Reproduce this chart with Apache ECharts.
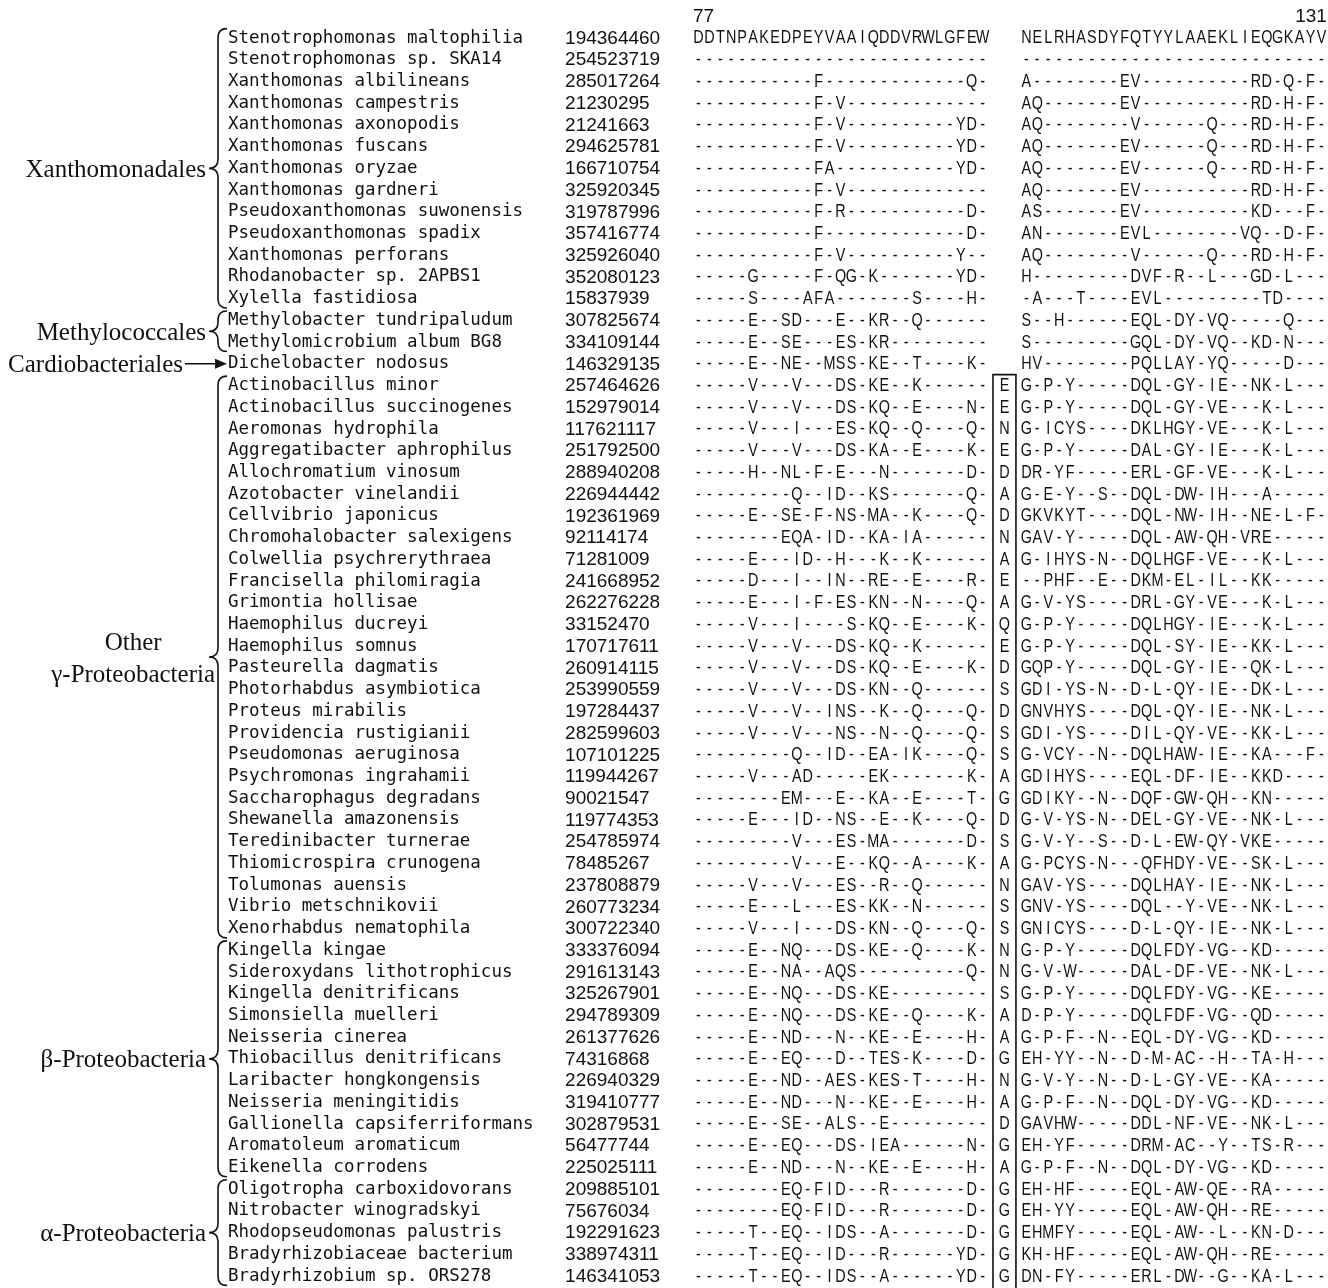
<!DOCTYPE html>
<html><head><meta charset="utf-8">
<script src="https://cdn.jsdelivr.net/npm/echarts@6/dist/echarts.min.js"></script>
<style>html,body{margin:0;padding:0;background:#fff}#c{width:1328px;height:1288px}</style>
</head><body><div id="c"></div>
<script>
const names = [
'Stenotrophomonas maltophilia','Stenotrophomonas sp. SKA14','Xanthomonas albilineans','Xanthomonas campestris',
'Xanthomonas axonopodis','Xanthomonas fuscans','Xanthomonas oryzae','Xanthomonas gardneri',
'Pseudoxanthomonas suwonensis','Pseudoxanthomonas spadix','Xanthomonas perforans','Rhodanobacter sp. 2APBS1',
'Xylella fastidiosa','Methylobacter tundripaludum','Methylomicrobium album BG8','Dichelobacter nodosus',
'Actinobacillus minor','Actinobacillus succinogenes','Aeromonas hydrophila','Aggregatibacter aphrophilus',
'Allochromatium vinosum','Azotobacter vinelandii','Cellvibrio japonicus','Chromohalobacter salexigens',
'Colwellia psychrerythraea','Francisella philomiragia','Grimontia hollisae','Haemophilus ducreyi',
'Haemophilus somnus','Pasteurella dagmatis','Photorhabdus asymbiotica','Proteus mirabilis',
'Providencia rustigianii','Pseudomonas aeruginosa','Psychromonas ingrahamii','Saccharophagus degradans',
'Shewanella amazonensis','Teredinibacter turnerae','Thiomicrospira crunogena','Tolumonas auensis',
'Vibrio metschnikovii','Xenorhabdus nematophila','Kingella kingae','Sideroxydans lithotrophicus',
'Kingella denitrificans','Simonsiella muelleri','Neisseria cinerea','Thiobacillus denitrificans',
'Laribacter hongkongensis','Neisseria meningitidis','Gallionella capsiferriformans','Aromatoleum aromaticum',
'Eikenella corrodens','Oligotropha carboxidovorans','Nitrobacter winogradskyi','Rhodopseudomonas palustris',
'Bradyrhizobiaceae bacterium','Bradyrhizobium sp. ORS278'];

const ids = [
'194364460','254523719','285017264','21230295','21241663','294625781','166710754','325920345',
'319787996','357416774','325926040','352080123','15837939','307825674','334109144','146329135',
'257464626','152979014','117621117','251792500','288940208','226944442','192361969','92114174',
'71281009','241668952','262276228','33152470','170717611','260914115','253990559','197284437',
'282599603','107101225','119944267','90021547','119774353','254785974','78485267','237808879',
'260773234','300722340','333376094','291613143','325267901','294789309','261377626','74316868',
'226940329','319410777','302879531','56477744','225025111','209885101','75676034','192291623',
'338974311','146341053'];

const block1 = [
'DDTNPAKEDPEYVAAIQDDVRWLGFEW',
'---------------------------',
'-----------F-------------Q-',
'-----------F-V-------------',
'-----------F-V----------YD-',
'-----------F-V----------YD-',
'-----------FA-----------YD-',
'-----------F-V-------------',
'-----------F-R-----------D-',
'-----------F-------------D-',
'-----------F-V----------Y--',
'-----G-----F-QG-K-------YD-',
'-----S----AFA-------S----H-',
'-----E--SD---E--KR--Q------',
'-----E--SE---ES-KR---------',
'-----E--NE--MSS-KE--T----K-',
'-----V---V---DS-KE--K------',
'-----V---V---DS-KQ--E----N-',
'-----V---I---ES-KQ--Q----Q-',
'-----V---V---DS-KA--E----K-',
'-----H--NL-F-E---N-------D-',
'---------Q--ID--KS-------Q-',
'-----E--SE-F-NS-MA--K----Q-',
'--------EQA-ID--KA-IA------',
'-----E---ID--H---K--K------',
'-----D---I--IN--RE--E----R-',
'-----E---I-F-ES-KN--N----Q-',
'-----V---I----S-KQ--E----K-',
'-----V---V---DS-KQ--K------',
'-----V---V---DS-KQ--E----K-',
'-----V---V---DS-KN--Q------',
'-----V---V--INS--K--Q----Q-',
'-----V---V---NS--N--Q----Q-',
'---------Q--ID--EA-IK----Q-',
'-----V---AD-----EK-------K-',
'--------EM---E--KA--E----T-',
'-----E---ID--NS--E--K----Q-',
'---------V---ES-MA-------D-',
'---------V---E--KQ--A----K-',
'-----V---V---ES--R--Q------',
'-----E---L---ES-KK--N------',
'-----V---I---DS-KN--Q----Q-',
'-----E--NQ---DS-KE--Q----K-',
'-----E--NA--AQS----------Q-',
'-----E--NQ---DS-KE---------',
'-----E--NQ---DS-KE--Q----K-',
'-----E--ND---N--KE--E----H-',
'-----E--EQ---D--TES-K----D-',
'-----E--ND--AES-KES-T----H-',
'-----E--ND---N--KE--E----H-',
'-----E--SE--ALS--E---------',
'-----E--EQ---DS-IEA------N-',
'-----E--ND---N--KE--E----H-',
'--------EQ-FID---R-------D-',
'--------EQ-FID---R-------D-',
'-----T--EQ--IDS--A-------D-',
'-----T--EQ--ID---R------YD-',
'-----T--EQ--IDS--A------YD-'];

const insertion = [
'','','','','','','','','','','','','','','','',
'E','E','N','E','D','A','D','N','A','E','A','Q','E','D','S','D','S','S','A','G','D','S','A','N','S','S',
'N','N','S','A','A','G','N','A','D','G','A',
'G','G','G','G','G'];

const block2 = [
'NELRHASDYFQTYYLAAEKLIEQGKAYV',
'----------------------------',
'A--------EV----------RD-Q-F-',
'AQ-------EV----------RD-H-F-',
'AQ--------V------Q---RD-H-F-',
'AQ-------EV------Q---RD-H-F-',
'AQ-------EV------Q---RD-H-F-',
'AQ-------EV----------RD-H-F-',
'AS-------EV----------KD---F-',
'AN-------EVL--------VQ--D-F-',
'AQ--------V------Q---RD-H-F-',
'H---------DVF-R--L---GD-L---',
'-A---T----EVL---------TD----',
'S--H------EQL-DY-VQ-----Q---',
'S---------GQL-DY-VQ--KD-N---',
'HV--------PQLLAY-YQ-----D---',
'G-P-Y-----DQL-GY-IE--NK-L---',
'G-P-Y-----DQL-GY-VE---K-L---',
'G-ICYS----DKLHGY-VE---K-L---',
'G-P-Y-----DAL-GY-IE---K-L---',
'DR-YF-----ERL-GF-VE---K-L---',
'G-E-Y--S--DQL-DW-IH---A-----',
'GKVKYT----DQL-NW-IH--NE-L-F-',
'GAV-Y-----DQL-AW-QH-VRE-----',
'G-IHYS-N--DQLHGF-VE---K-L---',
'--PHF--E--DKM-EL-IL--KK-----',
'G-V-YS----DRL-GY-VE---K-L---',
'G-P-Y-----DQLHGY-IE---K-L---',
'G-P-Y-----DQL-SY-IE--KK-L---',
'GQP-Y-----DQL-GY-IE--QK-L---',
'GDI-YS-N--D-L-QY-IE--DK-L---',
'GNVHYS----DQL-QY-IE--NK-L---',
'GDI-YS----DIL-QY-VE--KK-L---',
'G-VCY--N--DQLHAW-IE--KA---F-',
'GDIHYS----EQL-DF-IE--KKD----',
'GDIKY--N--DQF-GW-QH--KN-----',
'G-V-YS-N--DEL-GY-VE--NK-L---',
'G-V-Y--S--D-L-EW-QY-VKE-----',
'G-PCYS-N---QFHDY-VE--SK-L---',
'GAV-YS----DQLHAY-IE--NK-L---',
'GNV-YS----DQL--Y-VE--NK-L---',
'GNICYS----D-L-QY-IE--NK-L---',
'G-P-Y-----DQLFDY-VG--KD-----',
'G-V-W-----DAL-DF-VE--NK-L---',
'G-P-Y-----DQLFDY-VG--KE-----',
'D-P-Y-----DQLFDF-VG--QD-----',
'G-P-F--N--EQL-DY-VG--KD-----',
'EH-YY--N--D-M-AC--H--TA-H---',
'G-V-Y--N--D-L-GY-VE--KA-----',
'G-P-F--N--DQL-DY-VG--KD-----',
'GAVHW-----DDL-NF-VE--NK-L---',
'EH-YF-----DRM-AC--Y--TS-R---',
'G-P-F--N--DQL-DY-VG--KD-----',
'EH-HF-----EQL-AW-QE--RA-----',
'EH-YY-----EQL-AW-QH--RE-----',
'EHMFY-----EQL-AW--L--KN-D---',
'KH-HF-----EQL-AW-QH--RE-----',
'DN-FY-----ERL-DW--G--KA-L---'];

const positionLabels = ['77', '131'];
const groupLabels = ['Xanthomonadales','Methylococcales','Cardiobacteriales','Other\nγ-Proteobacteria','β-Proteobacteria','α-Proteobacteria'];
const groupFirst = [1, 14, 16, 17, 43, 54];
const groupLast  = [13, 15, 16, 42, 53, 58];
const groupMark  = ['brace','brace','arrow','brace','brace','brace'];
const boxFirstRow = 17;

// ---- layout (display columns, one unit = one character cell) ----
const NAME_COL = -42.54, ID_COL = -11.7, BLOCK1_COL = 0, INS_COL = 28, BLOCK2_COL = 30, END_COL = 58;
const SEQ_FONT = '18px "Liberation Sans", Arial, sans-serif';
const SEQ_SCALE = 0.8;
const ID_FONT = '19px "Liberation Sans", Arial, sans-serif';
const NAME_FONT = '17.5px "DejaVu Sans Mono", monospace';
const LABEL_FONT = '25px "Liberation Serif", "DejaVu Serif", serif';
const INK = '#111';

const seqData = [], seqChars = [];
function addRow(str, startCol, row) {
  for (let k = 0; k < str.length; k++) {
    const ch = str[k];
    if (ch === ' ') continue;
    seqData.push([startCol + k + 0.5, row]);
    seqChars.push(ch);
  }
}
names.forEach((_, r) => {
  addRow(block1[r], BLOCK1_COL, r + 1);
  addRow(insertion[r], INS_COL, r + 1);
  addRow(block2[r], BLOCK2_COL, r + 1);
});

const mctx = document.createElement('canvas').getContext('2d');
function textWidth(s, font) { mctx.font = font; return mctx.measureText(s).width; }

const chart = echarts.init(document.getElementById('c'));
chart.setOption({
  animation: false,
  backgroundColor: '#fff',
  grid: { left: 0, right: 0, top: 0, bottom: 0 },
  xAxis: { type: 'value', min: -63.40, max: 58.10, show: false },
  yAxis: { type: 'value', inverse: true, min: -0.75, max: 58.55, show: false },
  series: [
    { type: 'custom', silent: true, progressive: 0,
      data: seqData,
      renderItem: (params, api) => {
        const p = api.coord([api.value(0), api.value(1)]);
        return { type: 'text', x: p[0], y: p[1] + 0.5, scaleX: SEQ_SCALE,
          style: { text: seqChars[params.dataIndex], x: 0, y: 0,
          align: 'center', verticalAlign: 'middle', font: SEQ_FONT, fill: INK } };
      } },
    { type: 'custom', silent: true,
      data: names.map((_, r) => [NAME_COL, r + 1]),
      renderItem: (params, api) => {
        const p = api.coord([api.value(0), api.value(1)]);
        return { type: 'text', style: { text: names[params.dataIndex], x: p[0], y: p[1],
          align: 'left', verticalAlign: 'middle', font: NAME_FONT, fill: INK } };
      } },
    { type: 'custom', silent: true,
      data: ids.map((_, r) => [ID_COL, r + 1]),
      renderItem: (params, api) => {
        const p = api.coord([api.value(0), api.value(1)]);
        return { type: 'text', style: { text: ids[params.dataIndex], x: p[0], y: p[1] + 0.5,
          align: 'left', verticalAlign: 'middle', font: ID_FONT, fill: INK } };
      } },
    { type: 'custom', silent: true,
      data: [[BLOCK1_COL, 0], [END_COL, 0]],
      renderItem: (params, api) => {
        const p = api.coord([api.value(0), api.value(1)]);
        return { type: 'text', style: { text: positionLabels[params.dataIndex], x: p[0], y: p[1],
          align: params.dataIndex === 0 ? 'left' : 'right', verticalAlign: 'middle', font: ID_FONT, fill: INK } };
      } },
    { type: 'custom', silent: true,
      data: [[INS_COL, boxFirstRow, names.length]],
      renderItem: (params, api) => {
        const c = api.value(0), r0 = api.value(1);
        const a = api.coord([c - 0.55, r0 - 0.5]);
        const b = api.coord([c + 1.55, r0 + names.length]);
        return { type: 'rect', shape: { x: a[0], y: a[1], width: b[0] - a[0], height: b[1] - a[1] },
          style: { fill: 'none', stroke: INK, lineWidth: 1.6 } };
      } },
    { type: 'custom', silent: true,
      data: groupFirst.map((f, i) => [f, groupLast[i]]),
      renderItem: (params, api) => {
        const i = params.dataIndex;
        const first = api.value(0), last = api.value(1);
        const xr = api.coord([NAME_COL, first])[0];
        const top = api.coord([NAME_COL, first - 0.5])[1] + 1.5;
        const bot = api.coord([NAME_COL, last + 0.5])[1] - 1.5;
        const mid = (top + bot) / 2;
        const children = [];
        const lines = groupLabels[i].split('\n');
        let labelRight;
        if (groupMark[i] === 'brace') {
          const xe = xr - 1, xm = xr - 10, xl = xr - 19;
          const r = Math.min(9, (bot - top) / 4);
          children.push({ type: 'path', shape: { pathData:
            `M${xe} ${top} Q${xm} ${top} ${xm} ${top + r} L${xm} ${mid - r} Q${xm} ${mid} ${xl} ${mid} ` +
            `Q${xm} ${mid} ${xm} ${mid + r} L${xm} ${bot - r} Q${xm} ${bot} ${xe} ${bot}` },
            style: { fill: 'none', stroke: INK, lineWidth: 1.6 } });
          labelRight = lines.length > 1 ? xm - 3 : xl - 3;
        } else {
          children.push({ type: 'line', shape: { x1: xr - 43, y1: mid, x2: xr - 10, y2: mid },
            style: { stroke: INK, lineWidth: 1.6 } });
          children.push({ type: 'polygon', shape: { points: [[xr - 1, mid], [xr - 13, mid - 5], [xr - 13, mid + 5]] },
            style: { fill: INK } });
          labelRight = xr - 45;
        }
        const widest = Math.max(...lines.map(s => textWidth(s, LABEL_FONT)));
        const cx = labelRight - widest / 2;
        lines.forEach((s, k) => {
          children.push({ type: 'text', style: { text: s, x: cx, y: mid + (k - (lines.length - 1) / 2) * 32 + 2,
            align: 'center', verticalAlign: 'middle', font: LABEL_FONT, fill: INK } });
        });
        return { type: 'group', children };
      } }
  ]
});
</script>
</body></html>
